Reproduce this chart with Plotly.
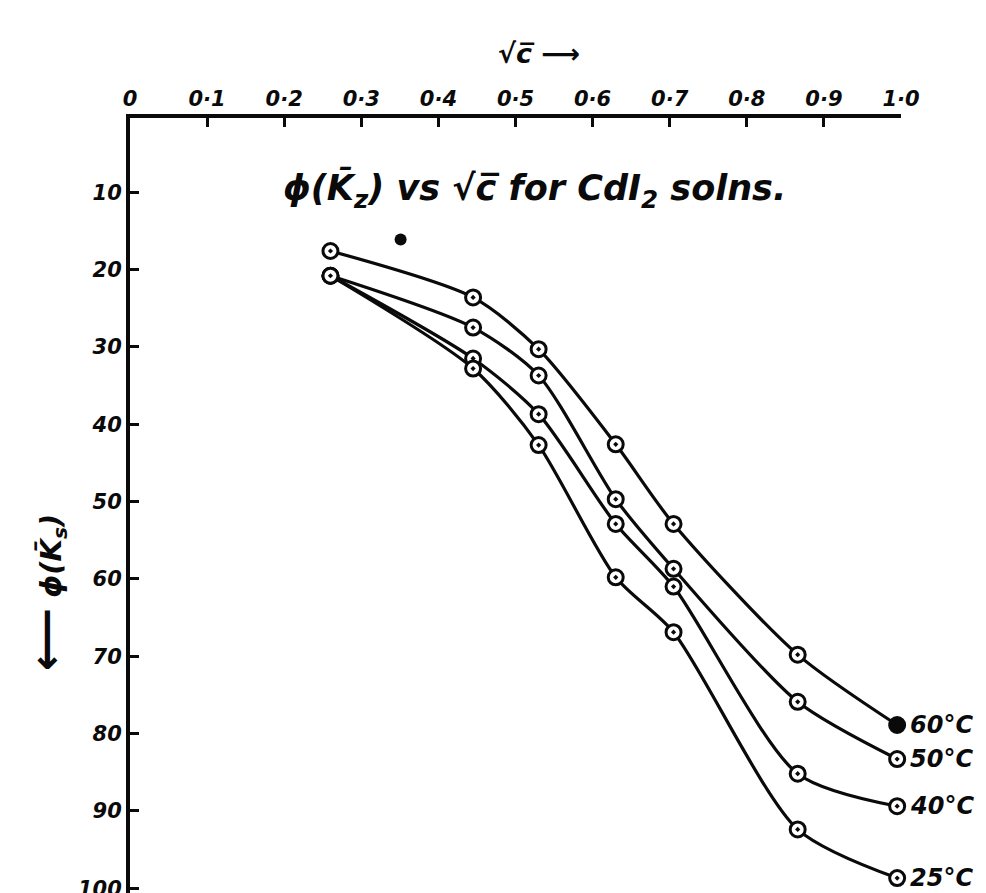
import plotly.graph_objects as go

# sqrt(c) values (x)
sqrt_c = [0.26, 0.445, 0.53, 0.63, 0.705, 0.866, 0.995]

# phi(K) values per temperature (y, axis reversed)
phi_60 = [17.6, 23.6, 30.3, 42.6, 52.9, 69.8, 78.9]
phi_50 = [20.8, 27.5, 33.7, 49.7, 58.7, 75.9, 83.3]
phi_40 = [20.8, 31.5, 38.7, 52.9, 61.0, 85.2, 89.4]
phi_25 = [20.8, 32.8, 42.7, 59.8, 66.9, 92.4, 98.7]

series_names = ["60°C", "50°C", "40°C", "25°C"]
series_values = [phi_60, phi_50, phi_40, phi_25]

# stray solid dot in the original
stray_x = [0.351]
stray_y = [16.1]

x_ticks = [0, 0.1, 0.2, 0.3, 0.4, 0.5, 0.6, 0.7, 0.8, 0.9, 1.0]
x_tick_text = ["0", "0·1", "0·2", "0·3", "0·4", "0·5", "0·6", "0·7", "0·8", "0·9", "1·0"]
y_ticks = [10, 20, 30, 40, 50, 60, 70, 80, 90, 100]
y_tick_text = ["10", "20", "30", "40", "50", "60", "70", "80", "90", "100"]

ink = "#0a0a0a"
font_family = "DejaVu Sans"

fig = go.Figure()

for name, vals in zip(series_names, series_values):
    fig.add_trace(go.Scatter(
        x=sqrt_c, y=vals, mode="lines",
        line=dict(color=ink, width=3.2, shape="spline", smoothing=0.75),
        showlegend=False, cliponaxis=False, hoverinfo="skip"))

for name, vals in zip(series_names, series_values):
    colors = ["white"] * len(vals)
    if name == "60°C":
        colors[-1] = ink
    fig.add_trace(go.Scatter(
        x=sqrt_c, y=vals, mode="markers", name=name,
        marker=dict(symbol="circle-dot", size=15, color=colors,
                    line=dict(color=ink, width=3)),
        showlegend=False, cliponaxis=False))
    fig.add_annotation(
        x=sqrt_c[-1], y=vals[-1], xref="x", yref="y",
        text="<b><i>" + name + "</i></b>", showarrow=False,
        xanchor="left", yanchor="middle", xshift=11,
        font=dict(family=font_family, size=24, color=ink))

fig.add_trace(go.Scatter(
    x=stray_x, y=stray_y, mode="markers",
    marker=dict(symbol="circle", size=12, color=ink),
    showlegend=False, cliponaxis=False, hoverinfo="skip"))

# title inside the plot
fig.add_annotation(
    x=0.525, y=9.7, xref="x", yref="y", yanchor="middle",
    text="<b><i>ϕ(K̄<sub>z</sub>) vs √c̅ for CdI<sub>2</sub> solns.</i></b>",
    showarrow=False, font=dict(family=font_family, size=35, color=ink))

# x axis title (top)
fig.add_annotation(
    x=0.53, y=1.083, xref="x", yref="paper", yanchor="middle",
    text="<b><i>√c̅ ⟶</i></b>", showarrow=False,
    font=dict(family=font_family, size=27, color=ink))

# y axis title (rotated)
fig.add_annotation(
    x=-0.109, y=0.393, xref="paper", yref="paper",
    xanchor="center", yanchor="middle",
    text="<b><i><span style='font-size:44px'>⟵</span> ϕ(K̄<sub>s</sub>)</i></b>",
    showarrow=False, textangle=-90,
    font=dict(family=font_family, size=29, color=ink))

fig.update_xaxes(
    range=[0, 1.0], side="top", tickvals=x_ticks, ticktext=x_tick_text,
    showgrid=False, zeroline=False, showline=True, linecolor=ink, linewidth=4,
    ticks="inside", ticklen=9, tickwidth=2.5, tickcolor=ink,
    ticklabeloverflow="allow",
    tickfont=dict(family=font_family, size=21, color=ink, weight="bold", style="italic"))
fig.update_yaxes(
    range=[101.4, 0.4], tickvals=y_ticks, ticktext=y_tick_text,
    showgrid=False, zeroline=False, showline=True, linecolor=ink, linewidth=4,
    ticks="inside", ticklen=9, tickwidth=2.5, tickcolor=ink,
    ticklabeloverflow="allow",
    tickfont=dict(family=font_family, size=21, color=ink, weight="bold", style="italic"))

fig.update_layout(
    width=986, height=893,
    margin=dict(l=122, r=93, t=110, b=0),
    paper_bgcolor="white", plot_bgcolor="white",
    showlegend=False)

fig.write_html("out.html")
